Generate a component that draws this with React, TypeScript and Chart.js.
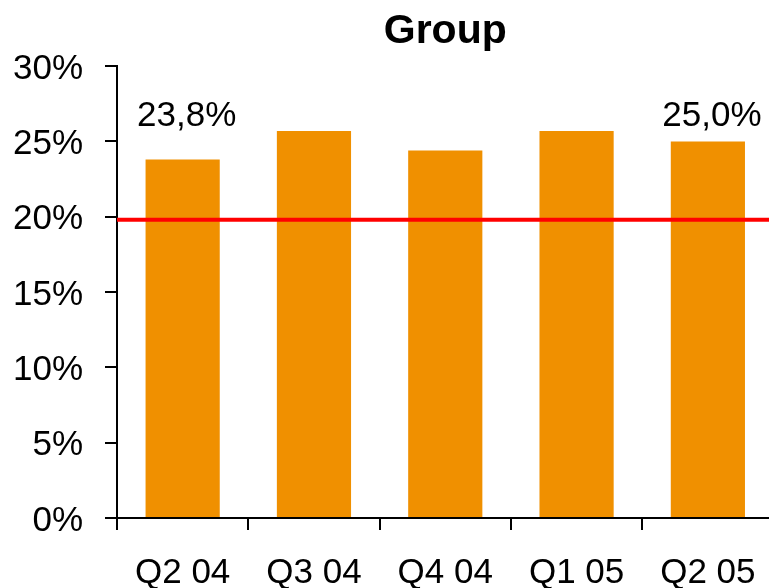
import React, { useEffect, useRef } from "react";
import { Chart, registerables } from "chart.js";

Chart.register(...registerables);

const TITLE = "Group";
const CATEGORIES = ["Q2 04", "Q3 04", "Q4 04", "Q1 05", "Q2 05"];
const VALUES = [23.8, 25.7, 24.4, 25.7, 25.0];
const VALUE_LABELS = ["23,8%", "", "", "", "25,0%"];
const LABEL_LEVEL = 26.7;
const TARGET = 19.8;
const Y_MIN = 0;
const Y_MAX = 30;
const Y_STEP = 5;

const FONT = "'Liberation Sans', Arial, Helvetica, sans-serif";
const BAR_COLOR = "#F09000";
const LINE_COLOR = "#FF0000";

const overlayPlugin = {
  id: "overlay",
  afterDatasetsDraw(chart: any) {
    const { ctx, chartArea, scales } = chart;
    const y = scales.y.getPixelForValue(TARGET);
    ctx.save();
    ctx.strokeStyle = LINE_COLOR;
    ctx.lineWidth = 4;
    ctx.beginPath();
    ctx.moveTo(chartArea.left, y);
    ctx.lineTo(chartArea.right, y);
    ctx.stroke();

    ctx.fillStyle = "#000";
    ctx.font = `35px ${FONT}`;
    ctx.textAlign = "center";
    ctx.textBaseline = "middle";
    const ly = scales.y.getPixelForValue(LABEL_LEVEL);
    VALUE_LABELS.forEach((lab, i) => {
      if (!lab) return;
      const x = scales.x.getPixelForValue(i);
      ctx.fillText(lab, x + 4, ly);
    });
    ctx.restore();
  },
};

export default function App() {
  const ref = useRef<HTMLCanvasElement | null>(null);
  useEffect(() => {
    if (!ref.current) return;
    const chart = new Chart(ref.current, {
      type: "bar",
      data: {
        labels: CATEGORIES,
        datasets: [
          {
            data: VALUES,
            backgroundColor: BAR_COLOR,
            borderWidth: 0,
            categoryPercentage: 1,
            barPercentage: 0.565,
          },
        ],
      },
      options: {
        responsive: false,
        animation: false,
        layout: { padding: { top: 0, left: 0, right: 0, bottom: 0 } },
        plugins: {
          legend: { display: false },
          tooltip: { enabled: false },
          title: {
            display: true,
            text: TITLE,
            fullSize: false,
            color: "#000",
            font: { family: FONT, size: 41, weight: "bold", lineHeight: 1.2 },
            padding: { top: 7, bottom: 10 },
          },
        },
        scales: {
          x: {
            afterFit: (s: any) => {
              s.height = 70;
            },
            grid: {
              offset: true,
              drawOnChartArea: false,
              drawTicks: true,
              tickLength: 12,
              color: "#000",
              lineWidth: 2,
            },
            border: { display: true, color: "#000", width: 2 },
            ticks: {
              color: "#000",
              font: { family: FONT, size: 35, lineHeight: 1.2 },
              padding: 22,
              maxRotation: 0,
            },
          },
          y: {
            min: Y_MIN,
            max: Y_MAX,
            afterFit: (s: any) => {
              s.width = 117;
            },
            grid: {
              drawOnChartArea: false,
              drawTicks: true,
              tickLength: 12,
              color: "#000",
              lineWidth: 2,
            },
            border: { display: true, color: "#000", width: 2 },
            ticks: {
              stepSize: Y_STEP,
              color: "#000",
              font: { family: FONT, size: 35, lineHeight: 1.2 },
              padding: 22,
              labelOffset: 3,
              callback: (v: any) => `${v}%`,
            },
          },
        },
      },
      plugins: [overlayPlugin],
    });
    return () => chart.destroy();
  }, []);
  return (
    <div
      style={{
        position: "fixed",
        left: 0,
        top: 0,
        width: 769,
        height: 588,
        overflow: "hidden",
        background: "#fff",
      }}
    >
      <canvas ref={ref} width={778} height={588} style={{ display: "block" }} />
    </div>
  );
}
